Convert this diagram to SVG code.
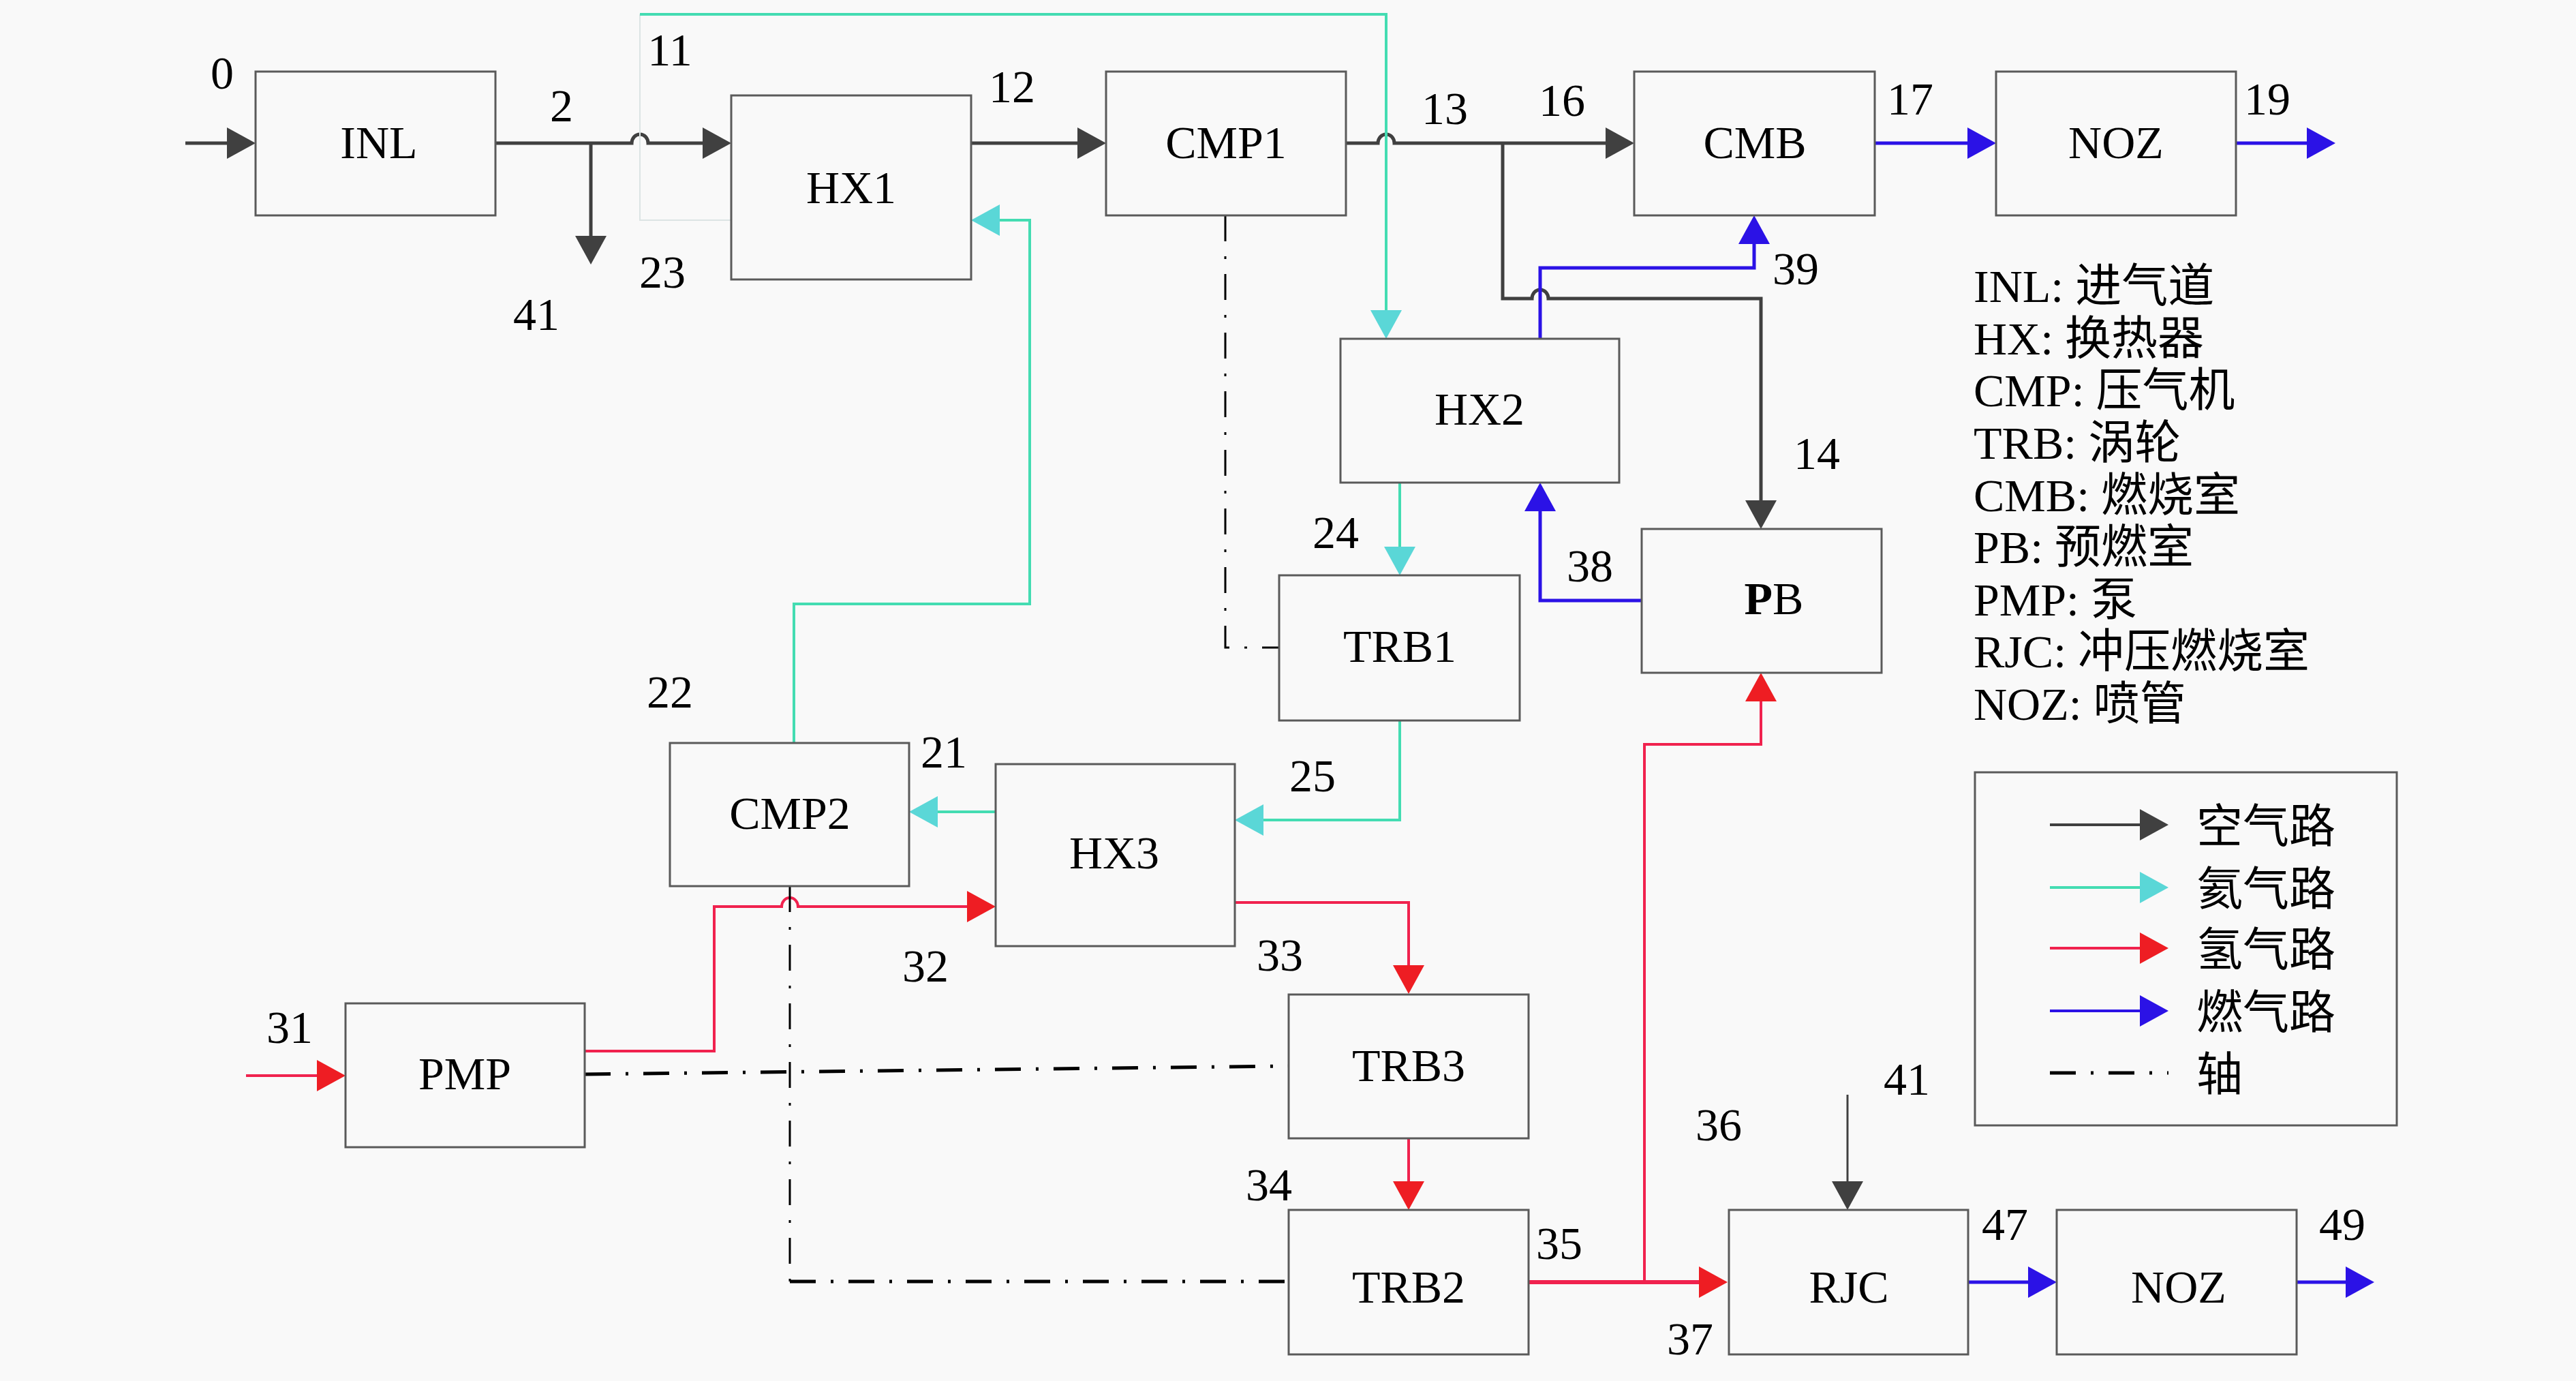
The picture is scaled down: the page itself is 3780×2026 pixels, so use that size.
<svg xmlns="http://www.w3.org/2000/svg" width="3780" height="2026" viewBox="0 0 3780 2026">
<defs>
<style>
.box{fill:none;stroke:#5a5a5a;stroke-width:3}
.t{font-family:'Liberation Serif','Times New Roman','DejaVu Serif','Noto Sans CJK SC',serif;font-size:68px;fill:#000}
.c{text-anchor:middle}
.air{fill:none;stroke:#404040;stroke-width:5}
.cy{fill:none;stroke:#44dcb2;stroke-width:4}
.faint{fill:none;stroke:#dce4e4;stroke-width:2}
.red{fill:none;stroke:#f0224e;stroke-width:4}
.blue{fill:none;stroke:#2b12e6;stroke-width:5}
.shaft{fill:none;stroke:#000;stroke-width:3;stroke-dasharray:38 22 4 22}
.shaftH{fill:none;stroke:#000;stroke-width:5;stroke-dasharray:38 22 4 22}
.ma{marker-end:url(#hAir)}
.mc{marker-end:url(#hCy)}
.mr{marker-end:url(#hRed)}
.mb{marker-end:url(#hBlue)}
</style>
<marker id="hAir" markerUnits="userSpaceOnUse" markerWidth="42" markerHeight="46" refX="32" refY="23" orient="auto"><path d="M0,0 L42,23 L0,46 z" fill="#404040"/></marker>
<marker id="hCy" markerUnits="userSpaceOnUse" markerWidth="42" markerHeight="46" refX="32" refY="23" orient="auto"><path d="M0,0 L42,23 L0,46 z" fill="#5ad7d7"/></marker>
<marker id="hRed" markerUnits="userSpaceOnUse" markerWidth="42" markerHeight="46" refX="32" refY="23" orient="auto"><path d="M0,0 L42,23 L0,46 z" fill="#ee1d23"/></marker>
<marker id="hBlue" markerUnits="userSpaceOnUse" markerWidth="42" markerHeight="46" refX="32" refY="23" orient="auto"><path d="M0,0 L42,23 L0,46 z" fill="#2b12e6"/></marker>
</defs>
<rect x="0" y="0" width="3780" height="2026" fill="#f9f9f9"/>

<g id="connectors">
<!-- air -->
<path class="air ma" d="M272,210 H365"/>
<path class="air ma" d="M727,210 H927 a12,13 0 0 1 24,0 H1063"/>
<path class="air ma" d="M867,210 V378"/>
<path class="air ma" d="M1425,210 H1613"/>
<path class="air ma" d="M1975,210 H2022 a12,13 0 0 1 24,0 H2388"/>
<path class="air ma" d="M2205,210 V438 H2248 a12,13 0 0 1 24,0 H2584 V766"/>
<path class="air ma" d="M2711,1606 V1765" style="stroke-width:3"/>
<!-- cyan -->
<path class="faint" d="M1073,323 H939 V21"/>
<path class="cy mc" d="M939,21 H2034 V487"/>
<path class="cy mc" d="M1165,1090 V886 H1511 V323 H1435"/>
<path class="cy mc" d="M2054,708 V834"/>
<path class="cy mc" d="M2054,1057 V1203 H1822"/>
<path class="cy mc" d="M1461,1191 H1344"/>
<!-- red -->
<path class="red mr" d="M361,1578 H497"/>
<path class="red mr" d="M858,1542 H1048 V1330 H1147 a12,13 0 0 1 24,0 H1451"/>
<path class="red mr" d="M1812,1324 H2067 V1448"/>
<path class="red mr" d="M2067,1670 V1765"/>
<path class="red mr" d="M2243,1881 H2525" style="stroke-width:6"/>
<path class="red mr" d="M2413,1881 V1092 H2584 V997"/>
<!-- blue -->
<path class="blue mb" d="M2751,210 H2919"/>
<path class="blue mb" d="M3281,210 H3417"/>
<path class="blue mb" d="M2260,497 V393 H2574 V326"/>
<path class="blue mb" d="M2409,881 H2260 V718"/>
<path class="blue mb" d="M2888,1881 H3008"/>
<path class="blue mb" d="M3370,1881 H3474"/>
<!-- shafts -->
<path class="shaft" d="M1798,316 V950 H1877"/>
<path class="shaftH" d="M858,1576 L1891,1564"/>
<path class="shaft" d="M1159,1300 V1880"/>
<path class="shaftH" d="M1159,1880 H1891"/>
</g>

<g id="node-INL"><rect class="box" x="375" y="105" width="352" height="211"/><text class="t c" x="556" y="232">INL</text></g>
<g id="node-HX1"><rect class="box" x="1073" y="140" width="352" height="270"/><text class="t c" x="1249" y="298">HX1</text></g>
<g id="node-CMP1"><rect class="box" x="1623" y="105" width="352" height="211"/><text class="t c" x="1799" y="232">CMP1</text></g>
<g id="node-CMB"><rect class="box" x="2398" y="105" width="353" height="211"/><text class="t c" x="2575" y="232">CMB</text></g>
<g id="node-NOZ1"><rect class="box" x="2929" y="105" width="352" height="211"/><text class="t c" x="3105" y="232">NOZ</text></g>
<g id="node-HX2"><rect class="box" x="1967" y="497" width="409" height="211"/><text class="t c" x="2171" y="623">HX2</text></g>
<g id="node-TRB1"><rect class="box" x="1877" y="844" width="353" height="213"/><text class="t c" x="2054" y="971">TRB1</text></g>
<g id="node-PB"><rect class="box" x="2409" y="776" width="352" height="211"/><text class="t c" x="2603" y="901"><tspan font-weight="bold">P</tspan>B</text></g>
<g id="node-CMP2"><rect class="box" x="983" y="1090" width="351" height="210"/><text class="t c" x="1159" y="1216">CMP2</text></g>
<g id="node-HX3"><rect class="box" x="1461" y="1121" width="351" height="267"/><text class="t c" x="1635" y="1274">HX3</text></g>
<g id="node-PMP"><rect class="box" x="507" y="1472" width="351" height="211"/><text class="t c" x="682" y="1598">PMP</text></g>
<g id="node-TRB3"><rect class="box" x="1891" y="1459" width="352" height="211"/><text class="t c" x="2067" y="1586">TRB3</text></g>
<g id="node-TRB2"><rect class="box" x="1891" y="1775" width="352" height="212"/><text class="t c" x="2067" y="1911">TRB2</text></g>
<g id="node-RJC"><rect class="box" x="2537" y="1775" width="351" height="212"/><text class="t c" x="2713" y="1911">RJC</text></g>
<g id="node-NOZ2"><rect class="box" x="3018" y="1775" width="352" height="212"/><text class="t c" x="3197" y="1911">NOZ</text></g>

<g id="labels" class="t c">
<text x="326" y="130">0</text>
<text x="824" y="178">2</text>
<text x="983" y="96">11</text>
<text x="972" y="422">23</text>
<text x="787" y="484">41</text>
<text x="1485" y="150">12</text>
<text x="2120" y="182">13</text>
<text x="2292" y="170">16</text>
<text x="2803" y="168">17</text>
<text x="3327" y="168">19</text>
<text x="2635" y="417">39</text>
<text x="2666" y="688">14</text>
<text x="2333" y="853">38</text>
<text x="1960" y="804">24</text>
<text x="1926" y="1161">25</text>
<text x="983" y="1038">22</text>
<text x="1385" y="1126">21</text>
<text x="1358" y="1440">32</text>
<text x="1878" y="1424">33</text>
<text x="425" y="1530">31</text>
<text x="1862" y="1761">34</text>
<text x="2288" y="1847">35</text>
<text x="2522" y="1673">36</text>
<text x="2480" y="1987">37</text>
<text x="2798" y="1606">41</text>
<text x="2942" y="1819">47</text>
<text x="3437" y="1819">49</text>
</g>

<g id="abbreviations" class="t">
<text x="2896" y="443">INL: 进气道</text>
<text x="2896" y="520">HX: 换热器</text>
<text x="2896" y="596">CMP: 压气机</text>
<text x="2896" y="673">TRB: 涡轮</text>
<text x="2896" y="750">CMB: 燃烧室</text>
<text x="2896" y="826">PB: 预燃室</text>
<text x="2896" y="903">PMP: 泵</text>
<text x="2896" y="979">RJC: 冲压燃烧室</text>
<text x="2896" y="1056">NOZ: 喷管</text>
</g>

<g id="legend">
<rect class="box" x="2898" y="1133" width="619" height="518"/>
<path class="air ma" d="M3008,1210 H3172" style="stroke-width:4"/>
<path class="cy mc" d="M3008,1302 H3172"/>
<path class="red mr" d="M3008,1391 H3172"/>
<path class="blue mb" d="M3008,1483 H3172" style="stroke-width:4"/>
<path class="shaftH" d="M3008,1574 H3182"/>
<g class="t">
<text x="3223" y="1236">空气路</text>
<text x="3223" y="1328">氦气路</text>
<text x="3223" y="1417">氢气路</text>
<text x="3223" y="1509">燃气路</text>
<text x="3223" y="1600">轴</text>
</g>
</g>
</svg>
